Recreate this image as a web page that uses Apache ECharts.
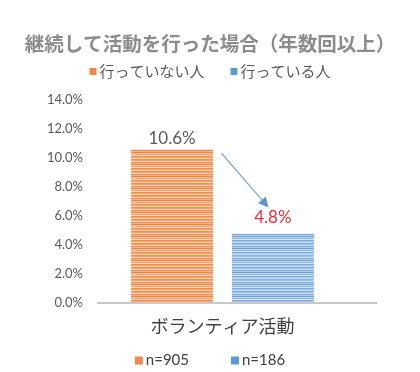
<!DOCTYPE html>
<html><head><meta charset="utf-8">
<script src="https://cdn.jsdelivr.net/npm/echarts@6/dist/echarts.min.js"></script>
<style>html,body{margin:0;padding:0;background:#fff}#c{width:420px;height:372px}</style>
</head><body><div id="c"></div>
<script>
const titleText = '継続して活動を行った場合（年数回以上）';
const categories = ['ボランティア活動'];
const seriesNames = ['行っていない人', '行っている人'];
const valuesNot = [10.6];
const valuesDo = [4.8];
const sampleSizes = ['n=905', 'n=186'];
const yTicks = { min: 0, max: 14, interval: 2 };
const solidColors = ['#f08a48', '#5b9bd5'];

function stripes(rows) {
  const c = document.createElement('canvas');
  c.width = 4; c.height = rows.length;
  const g = c.getContext('2d');
  rows.forEach((col, i) => { g.fillStyle = col; g.fillRect(0, i, 4, 1); });
  return { image: c, repeat: 'repeat' };
}
const orangePat = stripes(['#f28a45','#f6ab78','#f9cba9','#f39155','#f4a066','#fbd9bf','#f28d4b','#f6b283','#f08440','#f9c49f','#f5a06b','#fcdcc4']);
const bluePat = stripes(['#7aa9dd','#a6c7ea','#c6dbf2','#86b0e0','#94bbe5','#d3e4f6','#7dabde','#b0cdee','#6fa1d9','#bcd6f1','#8fb7e3','#d6e6f7']);

const chart = echarts.init(document.getElementById('c'), null, { renderer: 'canvas' });
const cjk = '"Noto Sans CJK JP", sans-serif';
const num = 'Lato, "Noto Sans CJK JP", sans-serif';
chart.setOption({
  animation: false,
  color: solidColors,
  title: { text: titleText, left: 'center', top: 29, textStyle: { fontFamily: cjk, fontSize: 19.5, fontWeight: 'bold', color: '#8c8c8c' } },
  legend: [
    { data: seriesNames, top: 59, left: 'center', itemWidth: 7, itemHeight: 7, itemGap: 26,
      icon: 'rect', textStyle: { fontFamily: cjk, fontSize: 15, color: '#595959', padding: [0,0,0,-2] } },
    { data: seriesNames, top: 348, left: 'center', itemWidth: 8, itemHeight: 8, itemGap: 42,
      icon: 'rect', formatter: n => sampleSizes[seriesNames.indexOf(n)],
      textStyle: { fontFamily: num, fontSize: 15, color: '#404040', padding: [0,0,0,-2] } }
  ],
  grid: { left: 97, right: 72, top: 100, bottom: 69 },
  xAxis: { type: 'category', data: categories,
    axisLine: { show: false }, axisTick: { show: false },
    axisLabel: { margin: 14, fontFamily: cjk, fontSize: 18, color: '#404040' } },
  yAxis: { type: 'value', min: yTicks.min, max: yTicks.max, interval: yTicks.interval,
    splitLine: { show: false }, axisLine: { show: false }, axisTick: { show: false },
    axisLabel: { margin: 14, fontFamily: num, fontSize: 13, color: '#595959', formatter: v => v.toFixed(1) + '%' } },
  series: [
    { name: seriesNames[0], type: 'bar', barWidth: 82, barGap: '23%',
      data: valuesNot.map(v => ({ value: v, itemStyle: { color: orangePat } })),
      label: { show: true, position: 'top', distance: 2, fontFamily: num, fontSize: 17, color: '#595959', formatter: p => p.value.toFixed(1) + '%' } },
    { name: seriesNames[1], type: 'bar', barWidth: 82,
      data: valuesDo.map(v => ({ value: v, itemStyle: { color: bluePat } })),
      label: { show: true, position: 'top', distance: 7, fontFamily: num, fontSize: 17, color: '#e8303a', formatter: p => p.value.toFixed(1) + '%' } }
  ]
});

const y0 = chart.convertToPixel({ yAxisIndex: 0 }, 0);
const x0 = chart.convertToPixel({ xAxisIndex: 0 }, categories[0]);
const yA = chart.convertToPixel({ yAxisIndex: 0 }, valuesNot[0]);
const yB = chart.convertToPixel({ yAxisIndex: 0 }, valuesDo[0]);
const ax = 97, bx = 377;
const sx = x0 - 1, sy = yA + 4, ex = x0 + 46, ey = yB - 26;
const ang = Math.atan2(ey - sy, ex - sx);
const hl = 10, hw = 5;
const bxp = ex - hl * Math.cos(ang), byp = ey - hl * Math.sin(ang);
chart.setOption({ graphic: [
  { type: 'line', shape: { x1: ax, y1: y0, x2: bx, y2: y0 }, style: { stroke: '#c8c8c8', lineWidth: 2 }, z: 10 },
  { type: 'line', shape: { x1: sx, y1: sy, x2: bxp, y2: byp }, style: { stroke: '#7ea9d8', lineWidth: 1.3 }, z: 10 },
  { type: 'polygon', shape: { points: [[ex, ey],
      [bxp + hw * Math.sin(ang), byp - hw * Math.cos(ang)],
      [bxp - hw * Math.sin(ang), byp + hw * Math.cos(ang)]] }, style: { fill: '#5f93d2' }, z: 10 }
]});
</script></body></html>
